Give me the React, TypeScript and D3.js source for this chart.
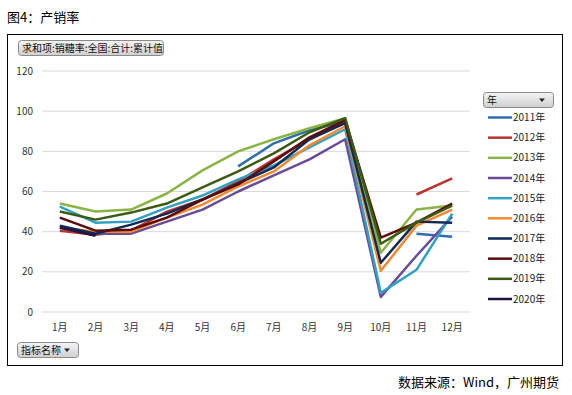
import React from 'react';
import * as d3 from 'd3';

// 产销率 (%), 1月..12月; null = no value
const months = ['1月', '2月', '3月', '4月', '5月', '6月', '7月', '8月', '9月', '10月', '11月', '12月'];
const years = ['2011年', '2012年', '2013年', '2014年', '2015年', '2016年', '2017年', '2018年', '2019年', '2020年'];
const yTicks = [0, 20, 40, 60, 80, 100, 120];

const v2011 = [null, null, null, null, null, 72.5, 84, 90.5, 95, null, 39, 37.5];
const v2012 = [40.5, 38.5, 40.5, 50, 56, 65, 76, 86, 95, null, 58.5, 66.5];
const v2013 = [54, 50, 51, 59, 70.5, 80, 86, 91.5, 96.5, 29.5, 51, 53];
const v2014 = [42, 39, 39, 45, 51, 60, 68, 76, 86, 7.5, 28, 47.5];
const v2015 = [52.5, 44.5, 45, 52, 58, 66, 73, 82, 91, 9.5, 21, 49];
const v2016 = [42, 40, 40, 47, 53.5, 62.5, 70, 83, 92.5, 20.5, 43, 51];
const v2017 = [43, 39, 43.5, 49, 56, 64, 72, 86, 94, 24.5, 45, 44.5];
const v2018 = [47, 40.5, 41, 47, 56, 63.5, 75, 87, 95.5, 37, 44.5, 54];
const v2019 = [50, 46, 49.5, 54, 62, 70, 79, 89.5, 96.5, 34, 44.5, 53];
const v2020 = [42, 38, null, null, null, null, null, null, null, null, null, null];

const seriesValues: (number | null)[][] = [v2011, v2012, v2013, v2014, v2015, v2016, v2017, v2018, v2019, v2020];
const colors = ['#2E6DAE', '#BA3330', '#8AB443', '#6A4B99', '#2FA2C3', '#F18A2E', '#0E2A55', '#5A0D0D', '#3B5B13', '#22133F'];

const font = '"Noto Sans CJK SC", "Noto Sans", sans-serif';

function Button({ x, y, w, h, label, arrow }: { x: number; y: number; w: number; h: number; label: string; arrow?: boolean }) {
  return (
    <g transform={`translate(${x},${y})`}>
      <rect x={0.5} y={0.5} width={w} height={h} rx={3} fill="url(#btnGrad)" stroke="#8a8a8a" />
      <text x={4} y={h / 2 + 4} fontSize={10} fill="#111" fontFamily={font}>{label}</text>
      {arrow && <path d={`M${w - 14},${h / 2 - 1} l6,0 l-3,3.5 z`} fill="#222" />}
    </g>
  );
}

export default function App() {
  const width = 572;
  const height = 395;
  const plot = { left: 42, right: 470, top: 71, bottom: 312 };

  const x = d3.scaleBand<string>().domain(months).range([plot.left, plot.right]);
  const y = d3.scaleLinear().domain([0, 120]).range([plot.bottom, plot.top]);
  const cx = (m: string) => (x(m) ?? 0) + x.bandwidth() / 2;

  const line = d3.line<number | null>()
    .defined(d => d !== null)
    .x((_, i) => cx(months[i]))
    .y(d => y(d as number));

  const legendY = d3.scaleLinear().domain([0, years.length - 1]).range([117.5, 299]);

  return (
    <svg width={width} height={height} style={{ position: 'absolute', left: 0, top: 0, background: '#fff' }}>
      <defs>
        <linearGradient id="btnGrad" x1="0" y1="0" x2="0" y2="1">
          <stop offset="0" stopColor="#f4f4f4" />
          <stop offset="1" stopColor="#cfcfcf" />
        </linearGradient>
      </defs>
      <text x={7} y={22} fontSize={13} fontFamily={font} fill="#000">图4：产销率</text>
      <rect x={7.5} y={34.5} width={555} height={331} fill="none" stroke="#000" strokeWidth={1} />

      <Button x={18} y={40} w={145} h={15} label="求和项:销糖率:全国:合计:累计值" />
      <Button x={17} y={342} w={61} h={15} label="指标名称" arrow />
      <Button x={483} y={92} w={70} h={15} label="年" arrow />

      {yTicks.map(t => (
        <g key={t}>
          <line x1={plot.left} x2={plot.right} y1={y(t)} y2={y(t)} stroke="#d9d9d9" strokeWidth={1} />
          <text x={33} y={y(t) + 3.5} fontSize={10} textAnchor="end" fill="#333" fontFamily={font}>{t}</text>
        </g>
      ))}
      {months.map(m => (
        <text key={m} x={cx(m)} y={331} fontSize={10} textAnchor="middle" fill="#333" fontFamily={font}>{m}</text>
      ))}

      {seriesValues.map((vals, i) => (
        <path key={years[i]} d={line(vals) ?? ''} fill="none" stroke={colors[i]} strokeWidth={2.5} strokeLinejoin="round" />
      ))}

      {years.map((yr, i) => (
        <g key={yr}>
          <line x1={488} x2={512} y1={legendY(i)} y2={legendY(i)} stroke={colors[i]} strokeWidth={2.5} />
          <text x={513} y={legendY(i) + 3.5} fontSize={10} fill="#222" fontFamily={font}>{yr}</text>
        </g>
      ))}

      <text x={559} y={387} fontSize={13} textAnchor="end" fontFamily={font} fill="#000">数据来源：Wind，广州期货</text>
    </svg>
  );
}
